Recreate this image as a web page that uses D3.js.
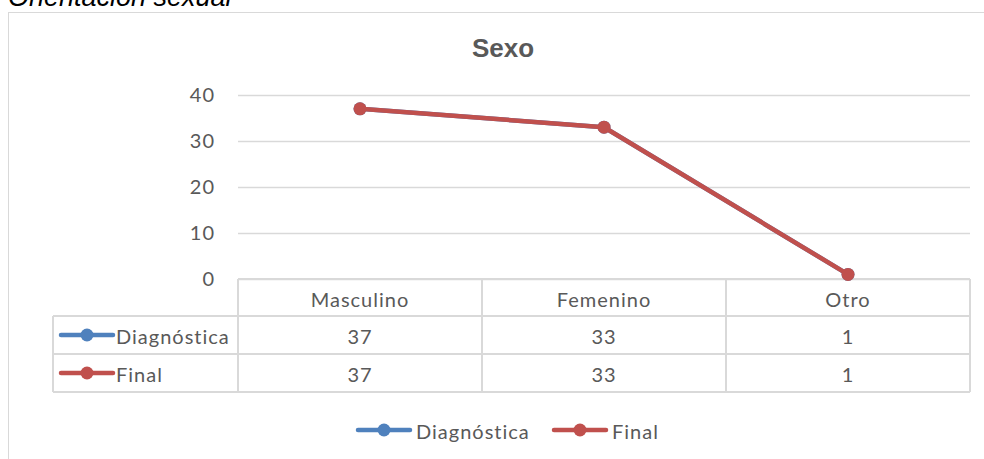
<!DOCTYPE html>
<html>
<head>
<meta charset="utf-8">
<script src="https://cdn.jsdelivr.net/npm/d3@7"></script>
<style>
  body { margin: 0; background: #fff; }
  svg { display: block; }
</style>
</head>
<body>
<svg id="chart"></svg>
<script>
const categories = ['Masculino', 'Femenino', 'Otro'];
const seriesNames = ['Diagnóstica', 'Final'];
const diagnostica = [37, 33, 1];
const final = [37, 33, 1];
const yTicks = [0, 10, 20, 30, 40];

const series = [
    {name: seriesNames[0], values: diagnostica, color: '#4f81bd'},
    {name: seriesNames[1], values: final, color: '#c0504d'}
];

const width = 984, height = 459;
const margin = {top: 95, right: 14, bottom: 180, left: 238};
const font = 'Lato, "Open Sans", sans-serif';
const textColor = '#595959';
const gridColor = '#d9d9d9';

const svg = d3.select('#chart')
    .attr('width', width)
    .attr('height', height);

// caption cut at top
svg.append('text')
    .attr('x', 8)
    .attr('y', 6)
    .style('font-family', 'Arial, "Liberation Sans", sans-serif')
    .style('font-style', 'italic')
    .style('font-size', '27px')
    .attr('fill', '#000')
    .text('Orientación sexual');

// chart border
svg.append('rect')
    .attr('x', 8.5).attr('y', 12.5)
    .attr('width', width + 10).attr('height', height)
    .attr('fill', 'none')
    .attr('stroke', gridColor);

svg.append('text')
    .attr('x', 503).attr('y', 57)
    .attr('text-anchor', 'middle')
    .style('font-family', 'Arial, "Liberation Sans", sans-serif')
    .style('font-weight', 'bold')
    .style('font-size', '26px')
    .attr('fill', textColor)
    .text('Sexo');

const x = d3.scaleBand()
    .domain(categories)
    .range([margin.left, width - margin.right]);

const y = d3.scaleLinear()
    .domain([0, 40])
    .range([height - margin.bottom, margin.top]);

// gridlines
svg.append('g')
    .selectAll('line')
    .data(yTicks)
    .join('line')
    .attr('x1', margin.left).attr('x2', width - margin.right)
    .attr('y1', d => Math.round(y(d)) + 0.5).attr('y2', d => Math.round(y(d)) + 0.5)
    .attr('stroke', gridColor)
    .attr('stroke-width', 1.5);

// y axis labels
let yAxis = g => g.attr('transform', `translate(${margin.left},0)`)
    .call(d3.axisLeft(y).tickValues(yTicks).tickSize(0).tickPadding(23))
    .call(g => g.select('.domain').remove())
    .call(g => g.selectAll('text')
        .style('font-family', font)
        .style('font-size', '20px')
        .style('letter-spacing', '1px')
        .attr('fill', textColor));
svg.append('g').call(yAxis);

// data table
const rowH = [37, 38, 38];
const tableTop = y(0);
const legendColLeft = 53;
const rowTops = [tableTop, tableTop + rowH[0], tableTop + rowH[0] + rowH[1]];
const tableBottom = rowTops[2] + rowH[2];
const table = svg.append('g')
    .attr('stroke', gridColor)
    .attr('stroke-width', 2);

// horizontal lines
table.append('line')
    .attr('x1', margin.left).attr('x2', width - margin.right)
    .attr('y1', tableTop).attr('y2', tableTop);
[rowTops[1], rowTops[2], tableBottom].forEach(yy => {
    table.append('line')
        .attr('x1', legendColLeft).attr('x2', width - margin.right)
        .attr('y1', yy).attr('y2', yy);
});
// vertical lines
table.append('line')
    .attr('x1', legendColLeft).attr('x2', legendColLeft)
    .attr('y1', rowTops[1]).attr('y2', tableBottom);
categories.forEach(c => {
    table.append('line')
        .attr('x1', x(c)).attr('x2', x(c))
        .attr('y1', tableTop).attr('y2', tableBottom);
});
table.append('line')
    .attr('x1', width - margin.right).attr('x2', width - margin.right)
    .attr('y1', tableTop).attr('y2', tableBottom);

const cellText = (sel) => sel
    .style('font-family', font)
    .style('font-size', '20px')
    .style('letter-spacing', '1px')
    .attr('fill', textColor)
    .attr('dominant-baseline', 'central');

// header
svg.append('g').selectAll('text')
    .data(categories)
    .join('text')
    .attr('x', d => x(d) + x.bandwidth() / 2)
    .attr('y', tableTop + rowH[0] / 2 + 1)
    .attr('text-anchor', 'middle')
    .call(cellText)
    .text(d => d);

// marker used in table and legend
function legendKey(g, color, cx, cy) {
    g.append('line')
        .attr('x1', cx - 26).attr('x2', cx + 26)
        .attr('y1', cy).attr('y2', cy)
        .attr('stroke', color)
        .attr('stroke-width', 4.5)
        .attr('stroke-linecap', 'round');
    g.append('circle')
        .attr('cx', cx).attr('cy', cy).attr('r', 6.5)
        .attr('fill', color);
}

series.forEach((s, i) => {
    const top = rowTops[i + 1];
    const cy = top + rowH[i + 1] / 2;
    const g = svg.append('g');
    legendKey(g, s.color, 87, cy);
    g.append('text')
        .attr('x', 116).attr('y', cy + 1)
        .call(cellText)
        .text(s.name);
    g.selectAll('text.val')
        .data(s.values)
        .join('text')
        .attr('class', 'val')
        .attr('x', (d, j) => x(categories[j]) + x.bandwidth() / 2)
        .attr('y', cy + 1)
        .attr('text-anchor', 'middle')
        .call(cellText)
        .text(d => d);
});

// lines
const line = d3.line()
    .x((d, i) => x(categories[i]) + x.bandwidth() / 2)
    .y(d => y(d));

series.forEach(s => {
    const g = svg.append('g');
    g.append('path')
        .datum(s.values)
        .attr('d', line)
        .attr('fill', 'none')
        .attr('stroke', s.color)
        .attr('stroke-width', 4.5)
        .attr('stroke-linejoin', 'round')
        .attr('stroke-linecap', 'round');
    g.selectAll('circle')
        .data(s.values)
        .join('circle')
        .attr('cx', (d, i) => x(categories[i]) + x.bandwidth() / 2)
        .attr('cy', d => y(d))
        .attr('r', 6.5)
        .attr('fill', s.color);
});

// bottom legend
const legendY = 430;
const legendX = [384, 580];
series.forEach((s, i) => {
    const g = svg.append('g');
    legendKey(g, s.color, legendX[i], legendY);
    g.append('text')
        .attr('x', legendX[i] + 32).attr('y', legendY + 1)
        .call(cellText)
        .text(s.name);
});
</script>
</body>
</html>
